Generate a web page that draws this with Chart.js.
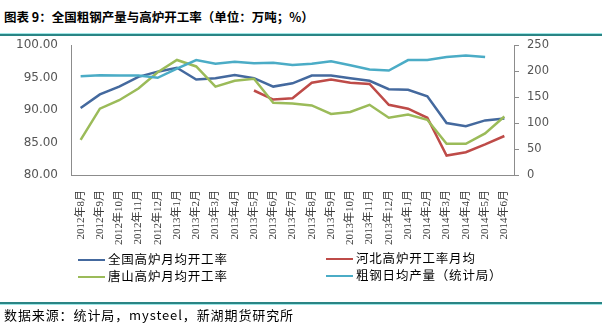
<!DOCTYPE html>
<html>
<head>
<meta charset="utf-8">
<script src="https://cdn.jsdelivr.net/npm/chart.js@4/dist/chart.umd.min.js"></script>
<style>
  html, body { margin:0; padding:0; background:#fff; }
  #wrap { position:relative; width:602px; height:331px; overflow:hidden; background:#fff; }
  #c { position:absolute; left:0; top:0; }
  .title { position:absolute; left:4px; top:8px; font-family:"Noto Sans CJK SC", sans-serif; font-weight:bold; font-size:12.5px; color:#000; white-space:nowrap; line-height:18px; }
  .rule { position:absolute; left:0; width:602px; }
  .leg { position:absolute; font-family:"Noto Sans CJK SC", sans-serif; font-size:12.5px; color:#000; white-space:nowrap; line-height:16px; letter-spacing:0.8px; }
  .leg i { display:inline-block; width:27px; height:2px; vertical-align:middle; margin-right:3px; position:relative; top:-1px; }
  .foot { position:absolute; left:4px; top:306px; font-family:"Noto Sans CJK SC", sans-serif; font-size:13px; letter-spacing:0.9px; color:#000; white-space:nowrap; line-height:18px; }
</style>
</head>
<body>
<div id="wrap">
  <div class="title">图表 9：全国粗钢产量与高炉开工率（单位：万吨；%）</div>
  <div class="rule" style="top:33px;height:1px;background:#9fe6e6;"></div>
  <div class="rule" style="top:34px;height:2px;background:#2a8585;"></div>
  <canvas id="c" width="602" height="331"></canvas>
  <div class="leg" style="left:78px;top:251px;"><i style="background:#44699e"></i>全国高炉月均开工率</div>
  <div class="leg" style="left:326px;top:250px;"><i style="background:#be4b48"></i>河北高炉开工率月均</div>
  <div class="leg" style="left:78px;top:268px;"><i style="background:#9bbb59"></i>唐山高炉月均开工率</div>
  <div class="leg" style="left:326px;top:267px;"><i style="background:#4bacc6"></i>粗钢日均产量（统计局）</div>
  <div class="rule" style="top:302px;height:2px;background:#2a8585;"></div>
  <div class="rule" style="top:304px;height:1px;background:#9fe6e6;"></div>
  <div class="foot">数据来源：统计局，mysteel，新湖期货研究所</div>
</div>
<script>
const categories = ["2012年8月","2012年9月","2012年10月","2012年11月","2012年12月","2013年1月","2013年2月","2013年3月","2013年4月","2013年5月","2013年6月","2013年7月","2013年8月","2013年9月","2013年10月","2013年11月","2013年12月","2014年1月","2014年2月","2014年3月","2014年4月","2014年5月","2014年6月"];
const nationalRate = [90.3, 92.4, 93.6, 95.1, 95.9, 96.5, 94.7, 94.9, 95.4, 94.9, 93.6, 94.1, 95.3, 95.3, 94.9, 94.5, 93.2, 93.1, 92.1, 88.0, 87.5, 88.4, 88.7];
const hebeiRate = [null, null, null, null, null, null, null, null, null, 93.0, 91.6, 91.8, 94.2, 94.7, 94.2, 94.0, 90.8, 90.2, 88.8, 83.0, 83.5, 84.7, 86.0];
const tangshanRate = [85.4, 90.2, 91.5, 93.3, 95.8, 97.7, 96.7, 93.6, 94.5, 94.8, 91.1, 91.0, 90.7, 89.4, 89.7, 90.8, 88.8, 89.3, 88.5, 84.8, 84.8, 86.4, 89.0];
const dailyOutput = [190, 192, 191.5, 191.5, 187, 204.6, 221, 214, 218, 215, 216, 211.5, 214, 218.7, 211, 203, 201, 221, 221, 227, 230, 227, null];
const seriesNames = ["全国高炉月均开工率", "河北高炉开工率月均", "唐山高炉月均开工率", "粗钢日均产量（统计局）"];
const leftTicks = {min: 80, max: 100, step: 5};
const rightTicks = {min: 0, max: 250, step: 50};

const axisColor = '#8c8c8c';
const line = (label, data, color, axis) => ({
  label, data, borderColor: color, backgroundColor: color, yAxisID: axis,
  borderWidth: 2.5, pointRadius: 0, tension: 0, fill: false, spanGaps: false
});

new Chart(document.getElementById('c'), {
  type: 'line',
  data: {
    labels: categories,
    datasets: [
      line(seriesNames[3], dailyOutput, '#4bacc6', 'y2'),
      line(seriesNames[2], tangshanRate, '#9bbb59', 'y'),
      line(seriesNames[1], hebeiRate, '#be4b48', 'y'),
      line(seriesNames[0], nationalRate, '#44699e', 'y')
    ]
  },
  options: {
    responsive: false,
    animation: false,
    layout: { padding: { top: 45, left: 0, right: 0, bottom: 0 } },
    plugins: { legend: { display: false }, title: { display: false }, tooltip: { enabled: false } },
    scales: {
      x: {
        offset: true,
        grid: { display: false, drawTicks: false },
        border: { display: true, color: axisColor, width: 1 },
        ticks: {
          autoSkip: false, minRotation: 90, maxRotation: 90, padding: 15,
          color: '#3a3a3a', font: { family: '"Liberation Serif", "Noto Sans CJK SC"', size: 11 }
        },
        afterFit(s) { s.height = 156; }
      },
      y: {
        position: 'left',
        min: leftTicks.min, max: leftTicks.max,
        grid: { display: false, drawTicks: false },
        border: { display: true, color: axisColor, width: 1 },
        ticks: {
          stepSize: leftTicks.step, padding: 13, color: '#555',
          font: { family: '"DejaVu Sans"', size: 12 },
          callback: v => Number(v).toFixed(2)
        },
        afterFit(s) { s.width = 71; }
      },
      y2: {
        position: 'right',
        min: rightTicks.min, max: rightTicks.max,
        grid: { display: true, drawOnChartArea: false, drawTicks: true, tickLength: 5, color: axisColor },
        border: { display: true, color: axisColor, width: 1 },
        ticks: {
          stepSize: rightTicks.step, padding: 8, color: '#555',
          font: { family: '"DejaVu Sans"', size: 11.5 }
        },
        afterFit(s) { s.width = 88; }
      }
    }
  }
});
</script>
</body>
</html>
